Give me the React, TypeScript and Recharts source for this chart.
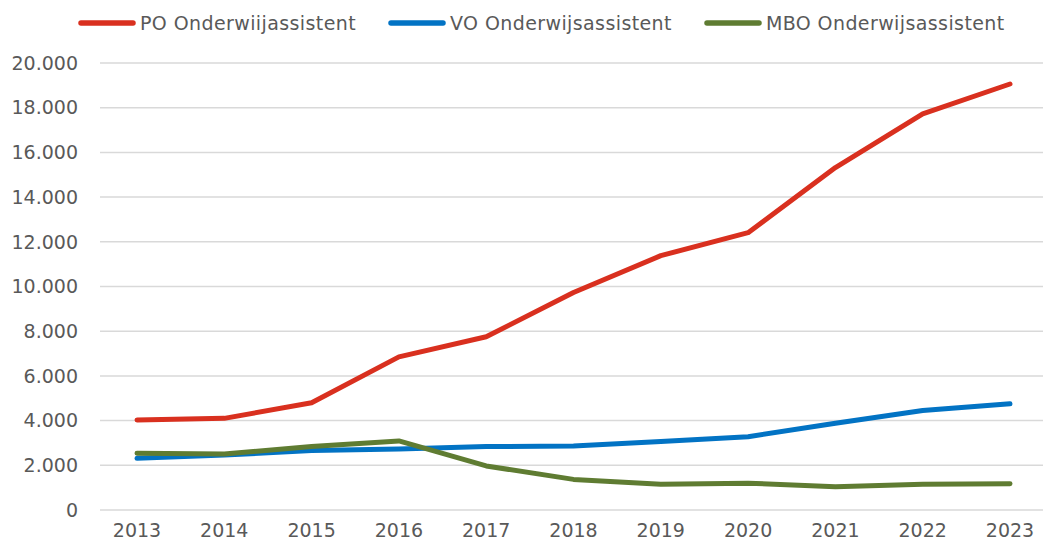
import React from "react";
import { LineChart, Line, XAxis, YAxis, CartesianGrid } from "recharts";

const years = ["2013", "2014", "2015", "2016", "2017", "2018", "2019", "2020", "2021", "2022", "2023"];
const poValues = [4030, 4100, 4800, 6850, 7750, 9730, 11380, 12410, 15320, 17720, 19060];
const voValues = [2310, 2460, 2660, 2730, 2840, 2860, 3060, 3280, 3880, 4450, 4750];
const mboValues = [2540, 2510, 2840, 3090, 1970, 1370, 1150, 1200, 1040, 1150, 1180];
const yTicks = [0, 2000, 4000, 6000, 8000, 10000, 12000, 14000, 16000, 18000, 20000];

const seriesNames = ["PO Onderwiijassistent", "VO Onderwijsassistent", "MBO Onderwijsassistent"];
const seriesColors = ["#D9301F", "#0273C4", "#5F7C32"];
const seriesKeys = ["po", "vo", "mbo"];

const data = years.map((y, i) => ({
  year: y,
  po: poValues[i],
  vo: voValues[i],
  mbo: mboValues[i],
}));

const FONT = "'DejaVu Sans', sans-serif";
const TEXT_COLOR = "#595959";

const fmt = (v: number) => String(v).replace(/\B(?=(\d{3})+(?!\d))/g, ".");

const LegendBox = () => (
  <div
    style={{
      position: "absolute",
      left: 78,
      top: 12,
      display: "flex",
      alignItems: "center",
      fontFamily: FONT,
      fontSize: 19,
      color: TEXT_COLOR,
      lineHeight: "22px",
    }}
  >
    {seriesKeys.map((k, i) => (
      <div key={k} style={{ display: "flex", alignItems: "center", marginRight: i < 2 ? 32 : 0 }}>
        <svg width={58} height={8} style={{ display: "block" }}>
          <line x1={3} y1={4} x2={55} y2={4} stroke={seriesColors[i]} strokeWidth={5.5} strokeLinecap="round" />
        </svg>
        <span style={{ marginLeft: 4, whiteSpace: "nowrap", letterSpacing: "0.4px" }}>{seriesNames[i]}</span>
      </div>
    ))}
  </div>
);

export default function App() {
  return (
    <div style={{ position: "absolute", left: 0, top: 0, width: 1043, height: 541, background: "#fff" }}>
      <LineChart width={1043} height={541} data={data} margin={{ top: 63, right: 0, bottom: 1, left: 0 }}>
        <CartesianGrid horizontal={true} vertical={false} stroke="#D9D9D9" strokeWidth={1.5} />
        <XAxis
          dataKey="year"
          height={30}
          axisLine={false}
          tickLine={false}
          padding={{ left: 37, right: 33 }}
          tickMargin={8}
          tick={{ fill: TEXT_COLOR, fontSize: 19, fontFamily: FONT }}
          interval={0}
        />
        <YAxis
          width={100}
          domain={[0, 20000]}
          ticks={yTicks}
          axisLine={false}
          tickLine={false}
          tickMargin={16}
          tickFormatter={fmt}
          tick={{ fill: TEXT_COLOR, fontSize: 19, fontFamily: FONT }}
          interval={0}
        />
        {seriesKeys.map((k, i) => (
          <Line
            key={k}
            type="linear"
            dataKey={k}
            name={seriesNames[i]}
            stroke={seriesColors[i]}
            strokeWidth={5}
            strokeLinecap="round"
            strokeLinejoin="round"
            dot={false}
            activeDot={false}
            isAnimationActive={false}
          />
        ))}
      </LineChart>
      <LegendBox />
    </div>
  );
}
